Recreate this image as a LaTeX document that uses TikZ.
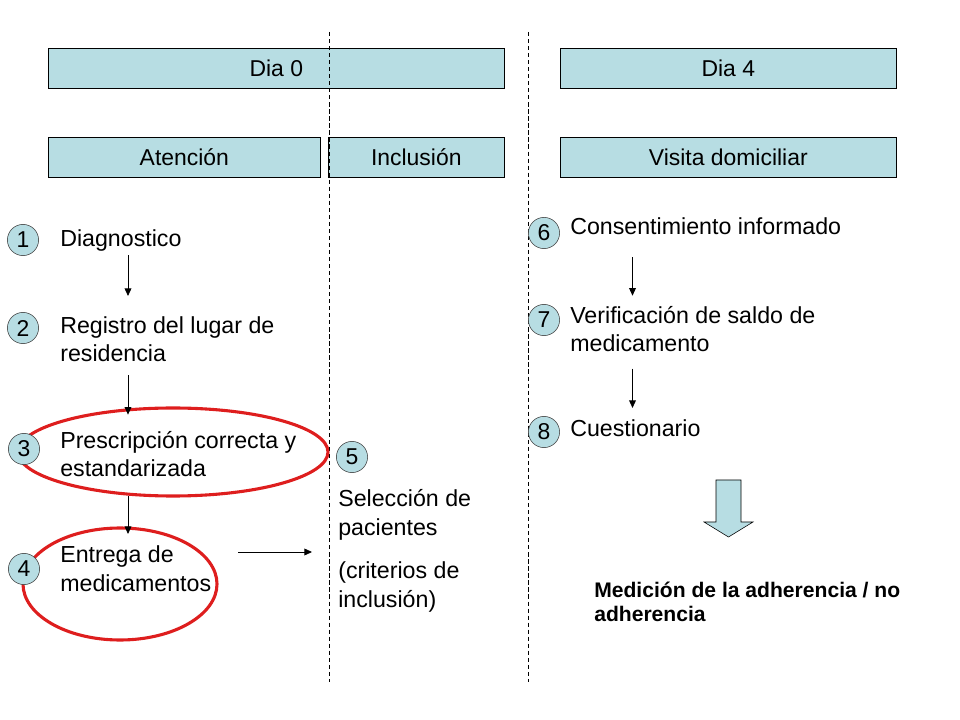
\documentclass[tikz,border=0pt]{standalone}
\usepackage{fontspec}
\setmainfont{Liberation Sans}
\definecolor{PanelFill}{RGB}{183,221,227}
\definecolor{RingRed}{RGB}{222,30,30}
\usetikzlibrary{arrows.meta}

\tikzset{
  panel/.style={draw=black, fill=PanelFill, anchor=north west, minimum height=1cm,
    inner sep=0pt, font=\fontsize{16.3}{20}\selectfont},
  badge/.style={circle, draw=black!75, fill=PanelFill, minimum size=0.78cm,
    inner sep=0pt, font=\fontsize{16.3}{20}\selectfont},
  itemtext/.style={anchor=base west, align=left, inner sep=0pt,
    font=\fontsize{16.5}{20.6}\selectfont},
  flow/.style={line width=0.6pt, -{Triangle[length=1.9mm,width=1.7mm]}},
  ring/.style={draw=RingRed, line width=2.2pt},
  divider/.style={line width=0.6pt, dash pattern=on 3pt off 2pt}
}

\begin{document}
\begin{tikzpicture}[x=0.025cm, y=-0.025cm]
\useasboundingbox (0,0) rectangle (960,720);

% headers
\node[panel, minimum width=11.4cm] (day0) at (48,48) {Dia 0};
\node[panel, minimum width=8.4cm] (day4) at (560,48) {Dia 4};
\node[panel, minimum width=6.8cm] (care) at (48,137) {Atención};
\node[panel, minimum width=4.4cm] (incl) at (328,137) {Inclusión};
\node[panel, minimum width=8.4cm] (visit) at (560,137) {Visita domiciliar};

\draw[divider] (329,32) -- (329,682);
\draw[divider] (528.5,32) -- (528.5,682);

% red rings
\draw[ring] (173,452) ellipse [x radius=155, y radius=44];
\draw[ring] (120,584) ellipse [x radius=97, y radius=56];

% steps (base = last line)
\node[itemtext] (t1) at (60,247) {Diagnostico};
\node[itemtext] (t2) at (60,362) {Registro del lugar de\\residencia};
\node[itemtext] (t3) at (60,477) {Prescripción correcta y\\estandarizada};
\node[itemtext] (t4) at (60,591) {Entrega de\\medicamentos};
\node[itemtext] (t5) at (338,607) {Selección de\\pacientes\\[10pt](criterios de\\inclusión)};
\node[itemtext] (t6) at (570,235) {Consentimiento informado};
\node[itemtext] (t7) at (570,352) {Verificación de saldo de\\medicamento};
\node[itemtext] (t8) at (570,437) {Cuestionario};
\node[itemtext, font=\fontsize{15}{17}\bfseries] (result) at (594,621)
  {Medición de la adherencia / no\\adherencia};

\node[badge] (n1) at (23,240) {1};
\node[badge] (n2) at (23,328) {2};
\node[badge] (n3) at (24,449) {3};
\node[badge] (n4) at (24,569) {4};
\node[badge] (n5) at (352,457) {5};
\node[badge] (n6) at (544,233) {6};
\node[badge] (n7) at (544,320) {7};
\node[badge] (n8) at (544,432) {8};

% arrows
\coordinate (colL) at (128,0);
\coordinate (colR) at (632.5,0);
\coordinate (hand) at (0,552);
\draw[flow, shorten <=2.1pt, shorten >=14.2pt] (t1.south -| colL) -- (t2.north -| colL);
\draw[flow, shorten <=9.2pt, shorten >=11.4pt] (t2.south -| colL) -- (t3.north -| colL);
\draw[flow, shorten <=12.8pt, shorten >=7.8pt] (t3.south -| colL) -- (t4.north -| colL);
\draw[flow, shorten <=15.6pt, shorten >=7.1pt] (t6.south -| colR) -- (t7.north -| colR);
\draw[flow, shorten <=11.4pt, shorten >=8.5pt] (t7.south -| colR) -- (t8.north -| colR);
\draw[flow, shorten <=19pt, shorten >=18.5pt] (t4.east |- hand) -- (t5.west |- hand);

\draw[fill=PanelFill] (716,480) -- (741,480) -- (741,522) -- (753,522)
  -- (728.5,537) -- (704,522) -- (716,522) -- cycle;

\end{tikzpicture}
\end{document}
